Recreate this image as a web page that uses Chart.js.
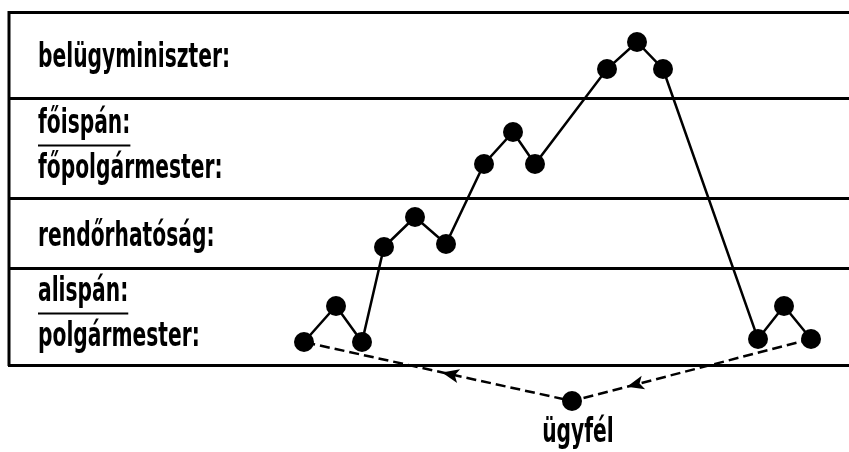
<!DOCTYPE html>
<html>
<head>
<meta charset="utf-8">
<script src="https://cdn.jsdelivr.net/npm/chart.js@4"></script>
<style>
  html, body { margin: 0; padding: 0; background: #fff; overflow: hidden; }
  #wrap { width: 849px; height: 452px; position: relative; }
  #chart { display: block; }
</style>
</head>
<body>
<div id="wrap"><canvas id="chart"></canvas></div>
<script>
// Heights above the bottom line of the box (px-like units)
const bandEdges = [0, 97, 166, 267, 353];
// Labels of each band, bottom to top
const bandLabels = [
  ['alispán:', 'polgármester:'],
  ['rendőrhatóság:'],
  ['főispán:', 'főpolgármester:'],
  ['belügyminiszter:'],
];
const underlined = ['alispán:', 'főispán:'];

// Path of the case through the offices
const pathX = [304, 336, 362, 384, 415, 446, 484, 513, 535, 607, 637, 663, 758, 784, 811];
const pathY = [23, 59, 23, 118, 148, 121, 201, 233, 201, 296, 323, 296, 26, 59, 26];

// The client
const clientX = [572];
const clientY = [-36];
const clientLabel = 'ügyfél';

const FONT = "bold 34px 'DejaVu Sans', sans-serif";

const pathData = pathX.map((x, i) => ({ x, y: pathY[i] }));
const last = pathData.length - 1;
const routeData = [pathData[last], { x: clientX[0], y: clientY[0] }, pathData[0]];

let squeeze = 1;

function drawText(ctx, text, x, y, align) {
  const w = ctx.measureText(text).width * squeeze;
  const left = align === 'center' ? x - w / 2 : x;
  ctx.save();
  ctx.translate(left, y);
  ctx.scale(squeeze, 1);
  ctx.fillText(text, 0, 0);
  ctx.restore();
  return w;
}

const decorPlugin = {
  id: 'decor',
  afterDatasetsDraw(chart) {
    const { ctx, chartArea, scales: { x, y } } = chart;
    ctx.save();
    // left border of the box
    ctx.strokeStyle = '#000';
    ctx.lineWidth = 3;
    ctx.beginPath();
    ctx.moveTo(chartArea.left + 1, y.getPixelForValue(bandEdges[bandEdges.length - 1]) - 1);
    ctx.lineTo(chartArea.left + 1, y.getPixelForValue(bandEdges[0]) + 1);
    ctx.stroke();

    // band labels
    ctx.fillStyle = '#000';
    ctx.font = FONT;
    ctx.textBaseline = 'alphabetic';
    ctx.textAlign = 'left';
    squeeze = Math.min(1, 192 / ctx.measureText('belügyminiszter:').width);
    const lx = chartArea.left + 30;
    bandLabels.forEach((lines, i) => {
      const top = y.getPixelForValue(bandEdges[i + 1]);
      const bot = y.getPixelForValue(bandEdges[i]);
      const mid = (top + bot) / 2;
      const bases = lines.length === 1 ? [mid + 12] : [mid - 16, mid + 29];
      lines.forEach((t, j) => {
        const w = drawText(ctx, t, lx, bases[j], 'left');
        if (underlined.includes(t)) {
          ctx.lineWidth = 2;
          ctx.beginPath();
          ctx.moveTo(lx, bases[j] + 13);
          ctx.lineTo(lx + w, bases[j] + 13);
          ctx.stroke();
        }
      });
    });

    // client label
    drawText(ctx, clientLabel, x.getPixelForValue(clientX[0]) + 6, y.getPixelForValue(clientY[0]) + 41, 'center');

    // arrowheads on the dashed route
    const arrows = [[0, 0.77], [1, 0.485]];
    arrows.forEach(([seg, t]) => {
      const a = routeData[seg], b = routeData[seg + 1];
      const ax = x.getPixelForValue(a.x), ay = y.getPixelForValue(a.y);
      const bx = x.getPixelForValue(b.x), by = y.getPixelForValue(b.y);
      const tx = ax + (bx - ax) * t, ty = ay + (by - ay) * t;
      const ang = Math.atan2(by - ay, bx - ax);
      ctx.save();
      ctx.translate(tx, ty);
      ctx.rotate(ang);
      ctx.beginPath();
      ctx.moveTo(0, 0);
      ctx.lineTo(-17, -7);
      ctx.lineTo(-13, 0);
      ctx.lineTo(-17, 7);
      ctx.closePath();
      ctx.fill();
      ctx.restore();
    });
    ctx.restore();
  },
};

new Chart(document.getElementById('chart'), {
  type: 'line',
  data: {
    datasets: [
      {
        data: pathData,
        borderColor: '#000',
        borderWidth: 2.5,
        backgroundColor: '#000',
        pointRadius: 10,
        pointBorderWidth: 0,
        pointBackgroundColor: '#000',
        tension: 0,
        order: 1,
      },
      {
        data: routeData,
        borderColor: '#000',
        borderWidth: 2.5,
        borderDash: [10, 5],
        pointRadius: [0, 10, 0],
        pointBorderWidth: 0,
        pointBackgroundColor: '#000',
        tension: 0,
        order: 2,
      },
    ],
  },
  options: {
    responsive: true,
    maintainAspectRatio: false,
    animation: false,
    layout: { autoPadding: false, padding: { left: 8, right: 0, top: 0, bottom: 0 } },
    plugins: { legend: { display: false }, tooltip: { enabled: false } },
    scales: {
      x: { type: 'linear', display: false, min: 8, max: 849 },
      y: {
        type: 'linear',
        min: -87,
        max: 365,
        afterBuildTicks: (scale) => { scale.ticks = bandEdges.map(v => ({ value: v })); },
        ticks: { display: false },
        border: { display: false },
        grid: { color: '#000', lineWidth: 3, drawTicks: false },
      },
    },
  },
  plugins: [decorPlugin],
});
</script>
</body>
</html>
